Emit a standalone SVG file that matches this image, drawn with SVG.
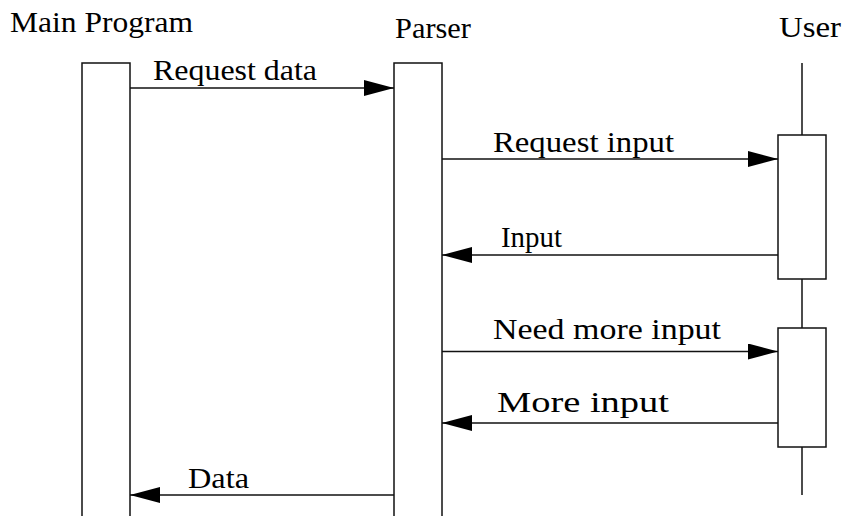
<svg xmlns="http://www.w3.org/2000/svg" width="842" height="516" viewBox="0 0 842 516">
<style>
  text { font-family: 'Liberation Serif', 'Times New Roman', serif; font-size: 30px; fill: #000; }
  .box { fill: #fff; stroke: #111; stroke-width: 1.5; }
  .life { stroke: #111; stroke-width: 1.5; fill: none; }
  .msg { stroke: #111; stroke-width: 1.4; fill: none; marker-end: url(#ah); }
</style>
<defs>
  <marker id="ah" markerUnits="userSpaceOnUse" markerWidth="30" markerHeight="16" refX="30" refY="8" orient="auto" viewBox="0 0 30 16">
    <path d="M0,0 L30,8 L0,16 z" fill="#000"/>
  </marker>
</defs>
<rect width="842" height="516" fill="#fff"/>
<g id="main-program">
  <text x="10" y="32" textLength="183" lengthAdjust="spacingAndGlyphs">Main Program</text>
  <rect class="box" x="82" y="63" width="48" height="470"/>
</g>
<g id="parser">
  <text x="395" y="38" textLength="76" lengthAdjust="spacingAndGlyphs">Parser</text>
  <rect class="box" x="394" y="63" width="48" height="470"/>
</g>
<g id="user">
  <text x="779" y="37" textLength="62" lengthAdjust="spacingAndGlyphs">User</text>
  <line class="life" x1="802" y1="63" x2="802" y2="495"/>
  <rect class="box" x="778" y="135" width="48" height="144"/>
  <rect class="box" x="778" y="328" width="48" height="119"/>
</g>
<g id="connectors">
  <line class="msg" x1="130" y1="88" x2="394" y2="88"/>
  <text x="153" y="80" textLength="164" lengthAdjust="spacingAndGlyphs">Request data</text>
  <line class="msg" x1="442" y1="159" x2="778" y2="159"/>
  <text x="493" y="152" textLength="181" lengthAdjust="spacingAndGlyphs">Request input</text>
  <line class="msg" x1="778" y1="255" x2="442" y2="255"/>
  <text x="501" y="247" textLength="61" lengthAdjust="spacingAndGlyphs">Input</text>
  <line class="msg" x1="442" y1="351.5" x2="778" y2="351.5"/>
  <text x="493" y="339" textLength="228" lengthAdjust="spacingAndGlyphs">Need more input</text>
  <line class="msg" x1="778" y1="423" x2="442" y2="423"/>
  <text x="497" y="412" textLength="172" lengthAdjust="spacingAndGlyphs">More input</text>
  <line class="msg" x1="394" y1="495" x2="130" y2="495"/>
  <text x="188" y="488" textLength="61" lengthAdjust="spacingAndGlyphs">Data</text>
</g>
</svg>
